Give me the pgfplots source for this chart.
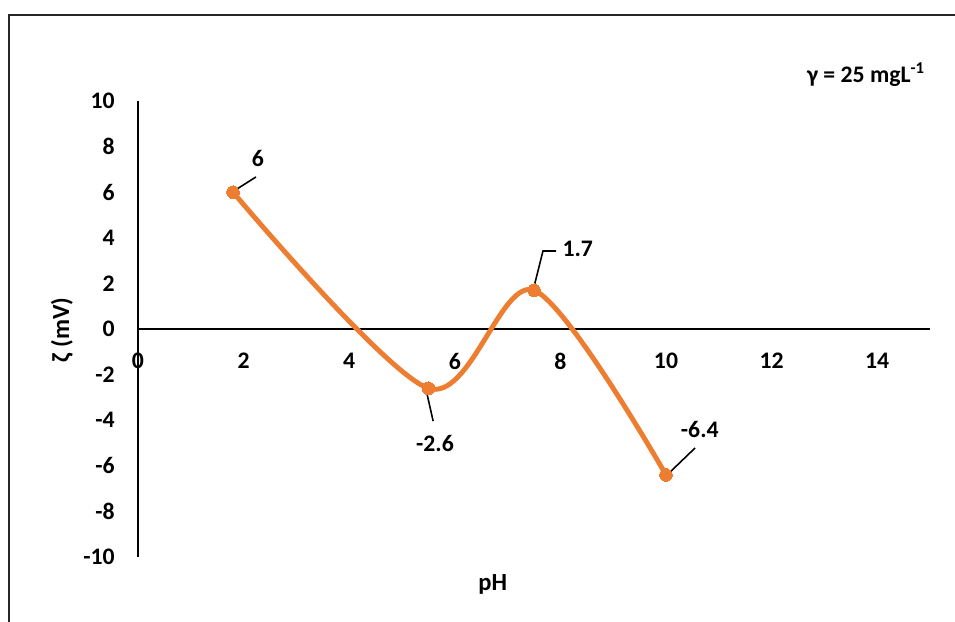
\documentclass[border=0pt]{standalone}
\usepackage{pgfplots}
\pgfplotsset{compat=1.18}
\usepackage{fontspec}
\setmainfont{Carlito}
\definecolor{exorange}{HTML}{ED7D31}

\begin{document}
\begin{tikzpicture}[font=\bfseries\fontsize{13.5}{15}\selectfont]
\useasboundingbox (0,0) rectangle (19.1,12.44);
% chart frame (only top and left edges are visible)
\draw[black!85, line width=0.8pt] (0.18,0) -- (0.18,12.14) -- (19.1,12.14);
\node at (17.32,10.94) {γ = 25 mgL\textsuperscript{-1}};
\begin{axis}[
  at={(2.76cm,1.3cm)}, anchor=south west,
  scale only axis, width=15.84cm, height=9.12cm,
  xmin=0, xmax=15, ymin=-10, ymax=10,
  axis lines=middle,
  axis line style={-, line width=1pt, black},
  xtick={0,2,...,14}, ytick={-10,-8,...,10},
  xticklabels={0,2,4,6,8,10,12,14},
  yticklabels={-10,-8,-6,-4,-2,0,2,4,6,8,10},
  major tick length=0pt,
  hide obscured x ticks=false, hide obscured y ticks=false,
  tick label style={font=\bfseries\fontsize{13.5}{15}\selectfont, inner sep=0pt},
  xticklabel style={anchor=center, yshift=-0.64cm},
  yticklabel style={anchor=east, xshift=-0.46cm},
  xlabel={pH}, ylabel={ζ (mV)},
  label style={font=\bfseries\fontsize{14}{16}\selectfont},
  xlabel style={at={(axis description cs:0.448,-0.061)}, anchor=center},
  ylabel style={at={(axis description cs:-0.096,0.498)}, anchor=center, rotate=90},
  clip=false,
]
\addplot[exorange, line width=2.8pt, smooth, mark=*, mark size=3.6pt,
  mark options={fill=exorange, draw=exorange, line width=0pt}]
  coordinates {(1.8,6) (5.5,-2.6) (7.5,1.7) (10,-6.4)};
% data labels with leader lines
\draw[black, line width=0.9pt] (axis cs:1.875,6.14) -- (axis cs:2.235,6.67);
\node at (axis cs:2.27,7.46) {6};
\draw[black, line width=0.9pt] (axis cs:5.47,-2.81) -- (axis cs:5.59,-4.04);
\node at (axis cs:5.625,-5.0) {-2.6};
\draw[black, line width=0.9pt] (axis cs:7.48,1.67) -- (axis cs:7.67,3.42) -- (axis cs:7.92,3.42);
\node at (axis cs:8.33,3.51) {1.7};
\draw[black, line width=0.9pt] (axis cs:9.98,-6.49) -- (axis cs:10.55,-5.22);
\node at (axis cs:10.64,-4.39) {-6.4};
\end{axis}
\end{tikzpicture}
\end{document}
